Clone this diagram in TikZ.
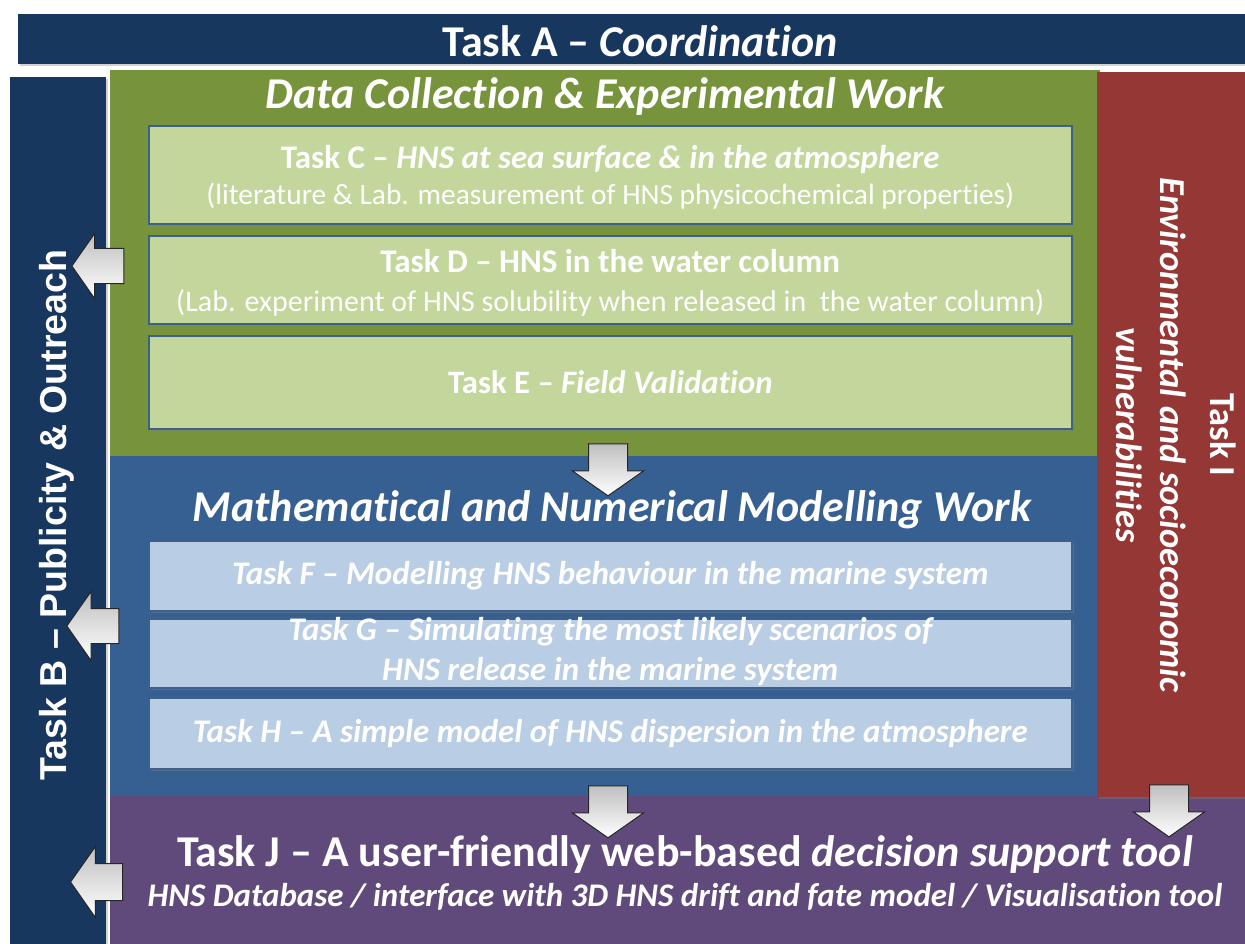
\documentclass[tikz,border=0pt]{standalone}
\usepackage{fontspec}
\setmainfont{Carlito}[Ligatures={TeX,NoCommon}]
\newfontfamily\arialfont{Liberation Sans}
\usetikzlibrary{shapes.arrows,shadows}
\definecolor{navy}{HTML}{17375E}
\definecolor{grn}{HTML}{77933C}
\definecolor{lgrn}{HTML}{C3D69B}
\definecolor{blu}{HTML}{366092}
\definecolor{lblu}{HTML}{B9CDE5}
\definecolor{taskred}{HTML}{953735}
\definecolor{purp}{HTML}{604A7B}
\definecolor{boxedge}{HTML}{3C5F8C}
\newcommand{\fsz}[2]{\fontsize{#1}{#2}\selectfont}
\tikzset{
  region/.style={anchor=north west, inner sep=0pt, draw=none, fill=#1,
    drop shadow={shadow xshift=2pt, shadow yshift=-2pt, opacity=0.35}},
  subbox/.style={anchor=north west, inner sep=0pt, fill=#1, draw=boxedge, line width=1.6pt,
    drop shadow={shadow xshift=2.5pt, shadow yshift=-2.5pt, opacity=0.45}},
  wtext/.style={text=white, inner sep=0pt, align=center},
  blockarrow/.style={single arrow, draw=black!85, line width=1pt, inner xsep=0pt, inner ysep=19pt,
    top color=gray!50, bottom color=white, single arrow tip angle=110,
    single arrow head extend=16pt, minimum height=52pt},
}
\begin{document}
\begin{tikzpicture}[x=1pt,y=-1pt]
\useasboundingbox (0,0) rectangle (1245,944);
\fill[white] (0,0) rectangle (1245,944);

% coloured regions
\node[region=grn, minimum width=990, minimum height=386] (green) at (110,70) {};
\node[region=blu, minimum width=987, minimum height=340] (blue) at (110,456) {};
\node[region=purp, minimum width=1140, minimum height=154] (purple) at (110,796) {};
\node[region=taskred, minimum width=153, minimum height=725] (red) at (1097,72) {};
\node[region=navy, minimum width=96, minimum height=873] (taskB) at (10,77) {};
\node[region=navy, minimum width=1232, minimum height=50] (taskA) at (18,14) {};

% titles
\node[wtext, font=\fsz{44}{48}\bfseries] (titleA) at (640,41) {Task A – \textit{Coordination}};
\node[wtext, font=\fsz{44}{48}\bfseries\itshape] (titleG) at (605,97) {Data Collection \& Experimental Work};
\node[wtext, font=\fsz{44}{48}\bfseries\itshape] (titleM) at (612,510) {Mathematical and Numerical Modelling Work};
\node[wtext, font=\fsz{44}{48}\bfseries] (titleJ) at (685,855) {Task J – A user-friendly web-based \textit{decision support tool}};
\node[wtext, font=\fsz{33}{36}\bfseries\itshape] (subJ) at (685,897) {HNS Database / interface with 3D HNS drift and fate model / Visualisation tool};
\node[wtext, rotate=90, font=\arialfont\fsz{37.5}{40}\bfseries] (titleB) at (57,515) {Task B – Publicity \& Outreach};
\node[wtext, rotate=-90, font=\fsz{36.5}{44}\bfseries] (titleI) at (1176,435)
  {Task I\\[6pt]{\itshape Environmental and socioeconomic}\\{\itshape vulnerabilities}};

% green sub boxes
\node[subbox=lgrn, minimum width=923, minimum height=98] (C) at (148,125) {};
\node[subbox=lgrn, minimum width=923, minimum height=88] (D) at (148,235) {};
\node[subbox=lgrn, minimum width=923, minimum height=93] (E) at (148,335) {};
\node[wtext, font=\fsz{29.4}{36}] at ([yshift=-2pt]C.center)
  {{\fsz{33}{36}\bfseries Task C – \textit{HNS at sea surface \& in the atmosphere}}\\
   (literature \& Lab. measurement of HNS physicochemical properties)};
\node[wtext, font=\fsz{30}{39}] at ([yshift=-3pt]D.center)
  {{\fsz{33}{39}\bfseries Task D – HNS in the water column}\\
   (Lab. experiment of HNS solubility when released in\ \ the water column)};
\node[wtext, font=\fsz{32.7}{36}\bfseries] at (E.center) {Task E – \textit{Field Validation}};

% blue sub boxes
\node[subbox=lblu, minimum width=923, minimum height=70] (F) at (148,540) {};
\node[subbox=lblu, minimum width=923, minimum height=69] (G) at (148,618) {};
\node[subbox=lblu, minimum width=923, minimum height=71] (H) at (148,697) {};
\node[wtext, font=\fsz{33}{40}\bfseries\itshape] at (F.center) {Task F – Modelling HNS behaviour in the marine system};
\node[wtext, font=\fsz{33}{40}\bfseries\itshape] at ([yshift=2pt]G.center) {Task G – Simulating the most likely scenarios of\\HNS release in the marine system};
\node[wtext, font=\fsz{33}{40}\bfseries\itshape] at (H.center) {Task H – A simple model of HNS dispersion in the atmosphere};

% block arrows
\node[blockarrow, rotate=-90] (a1) at (608,463) {};
\node[blockarrow, rotate=-90] (a2) at (608,805) {};
\node[blockarrow, rotate=-90] (a3) at (1169,804) {};
\node[blockarrow, rotate=180, inner ysep=17pt, single arrow head extend=15pt] (l1) at (104,266) {};
\node[blockarrow, rotate=180, inner ysep=17pt, single arrow head extend=17pt] (l2) at (99,626) {};
\node[blockarrow, rotate=180, inner ysep=18pt, single arrow head extend=17pt] (l3) at (103,882) {};
\end{tikzpicture}
\end{document}
